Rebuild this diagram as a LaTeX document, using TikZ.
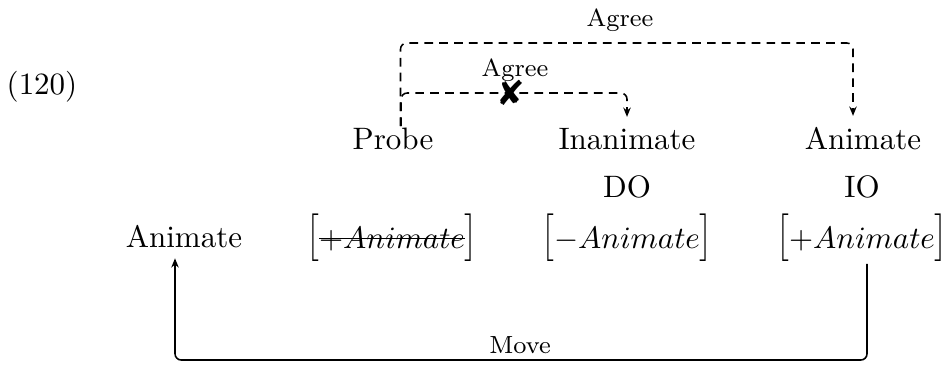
\documentclass[tikz,border=0pt]{standalone}
\usepackage{fontspec}
\usetikzlibrary{arrows.meta}
\newfontfamily\dejavu{DejaVu Sans}
\newcommand\strikeit[1]{\setbox0\hbox{#1}\rlap{\rule[0.65ex]{\wd0}{0.45pt}}\box0}
\newcommand\lbrk{\scalebox{1}[1.28]{$\bigl[$}}
\newcommand\rbrk{\scalebox{1}[1.28]{$\bigr]$}}
\begin{document}
\begin{tikzpicture}[x=0.3226pt,y=-0.3226pt,
  word/.style={inner sep=3.33pt, anchor=base},
  lbl/.style={font=\footnotesize, inner sep=1pt},
  tip/.style={-{Stealth[length=3pt,width=2.4pt]}},
  agreeline/.style={tip, dash pattern=on 2.8pt off 2pt, line width=0.5pt, rounded corners=2pt},
  moveline/.style={tip, line width=0.5pt, rounded corners=2pt}]
\useasboundingbox (0,0) rectangle (946,365);
\node[word] (ex) at (42,94) {(120)};
\node[word] (probe) at (393,149) {Probe};
\node[word] (inan) at (627,149) {Inanimate};
\node[word] (anim) at (863,149) {Animate};
\node[word] (do) at (627,197) {DO};
\node[word] (io) at (862,197) {IO};
\node[word] (goal) at (184,247) {Animate};
\node[word] (f1) at (392,248) {\lbrk\strikeit{$+Animate$}\rbrk};
\node[word] (f2) at (627,248) {\lbrk$-Animate$\rbrk};
\node[word] (f3) at (862,248) {\lbrk$+Animate$\rbrk};
% labels
\node[lbl] (agreeTop) at (620,20) {Agree};
\node[lbl] (agreeIn) at (515,70) {Agree};
\node[lbl] (move) at (520,345) {Move};
% coordinates
\coordinate (pIn) at ([shift={(8,9.5)}]probe.north);
\coordinate (pOut) at ([shift={(7.5,9.5)}]probe.north);
\coordinate (outerCorner) at (853,43);
\coordinate (innerMid) at (511,93);
\coordinate (moveMid) at (520,360);
% connectors
\draw[agreeline] (pOut) |- (outerCorner) -- ([shift={(-10,0)}]anim.north);
\draw[agreeline] (pIn) |- (innerMid) -| (inan.north);
\draw[moveline] ([shift={(5,-9)}]f3.south) |- (moveMid) -| ([shift={(-9,0)}]goal.south);
\node[inner sep=0pt] (xmark) at (innerMid) {\dejavu\fontsize{11pt}{13pt}\selectfont ✘};
\end{tikzpicture}
\end{document}
